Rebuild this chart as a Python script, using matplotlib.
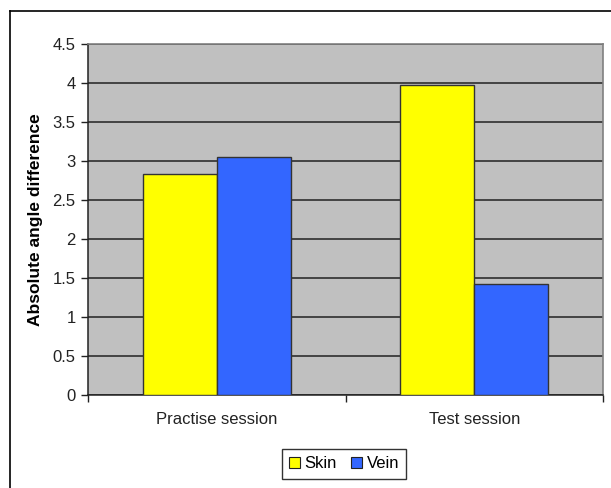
import matplotlib
matplotlib.use("Agg")
import matplotlib.pyplot as plt
import numpy as np
from matplotlib.lines import Line2D
from matplotlib.patches import Patch

categories = ["Practise session", "Test session"]
skin = [2.83, 3.97]
vein = [3.05, 1.42]
yticks = [0, 0.5, 1, 1.5, 2, 2.5, 3, 3.5, 4, 4.5]
ytick_labels = ["0", "0.5", "1", "1.5", "2", "2.5", "3", "3.5", "4", "4.5"]

plt.rcParams["font.family"] = ["Liberation Sans", "DejaVu Sans"]

W, H = 611, 488
fig = plt.figure(figsize=(W / 100, H / 100), dpi=100)

# plot area in pixel coordinates
left, right, top, bottom = 88, 603, 44, 395
ax = fig.add_axes([left / W, 1 - bottom / H, (right - left) / W, (bottom - top) / H])
ax.set_facecolor("#C0C0C0")

x = np.arange(len(categories))
bw = 0.2875
ax.bar(x - bw / 2, skin, bw, color="#FFFF00", edgecolor="#333333", linewidth=1.0, zorder=3, label="Skin")
ax.bar(x + bw / 2, vein, bw, color="#3366FF", edgecolor="#333333", linewidth=1.0, zorder=3, label="Vein")

ax.set_xlim(-0.5, len(categories) - 0.5)
ax.set_ylim(0, 4.5)
ax.set_yticks(yticks)
ax.set_yticklabels(ytick_labels, fontsize=12, color="#222222")
ax.yaxis.grid(True, color="#222222", linewidth=1.1, zorder=1)
ax.set_axisbelow(True)

# category labels centred, tick marks at category boundaries
ax.set_xticks(x)
ax.set_xticklabels(categories, fontsize=12, color="#222222")
ax.tick_params(axis="x", length=0, pad=12)
ax.set_xticks(np.arange(-0.5, len(categories)), minor=True)
ax.tick_params(axis="x", which="minor", length=5, width=1, color="#222222", direction="out")
ax.tick_params(axis="y", length=5, width=1, color="#222222", direction="out", pad=4)

for s in ("top", "right"):
    ax.spines[s].set_color("#808080")
    ax.spines[s].set_linewidth(1.2)
for s in ("left", "bottom"):
    ax.spines[s].set_color("#222222")
    ax.spines[s].set_linewidth(1.1)

ax.set_ylabel("Absolute angle difference", fontsize=12.5, fontweight="bold", labelpad=7)

handles = [Patch(facecolor="#FFFF00", edgecolor="#222222", linewidth=0.8),
           Patch(facecolor="#3366FF", edgecolor="#222222", linewidth=0.8)]
leg = fig.legend(handles, ["Skin", "Vein"], loc="center", bbox_to_anchor=(344 / W, 1 - 464 / H),
                 ncol=2, frameon=True, fancybox=False, fontsize=12, handlelength=0.65,
                 handleheight=0.65, handletextpad=0.25, columnspacing=0.9, borderpad=0.45)
leg.get_frame().set_edgecolor("#000000")
leg.get_frame().set_linewidth(1.0)

# outer chart frame (left and top edges visible)
fig.add_artist(Line2D([9.5 / W, 9.5 / W], [0, 1 - 11 / H], color="#000000", linewidth=1.2,
                      transform=fig.transFigure))
fig.add_artist(Line2D([9.5 / W, 1], [1 - 11 / H, 1 - 11 / H], color="#000000", linewidth=1.2,
                      transform=fig.transFigure))

fig.savefig("out.png", dpi=100)
